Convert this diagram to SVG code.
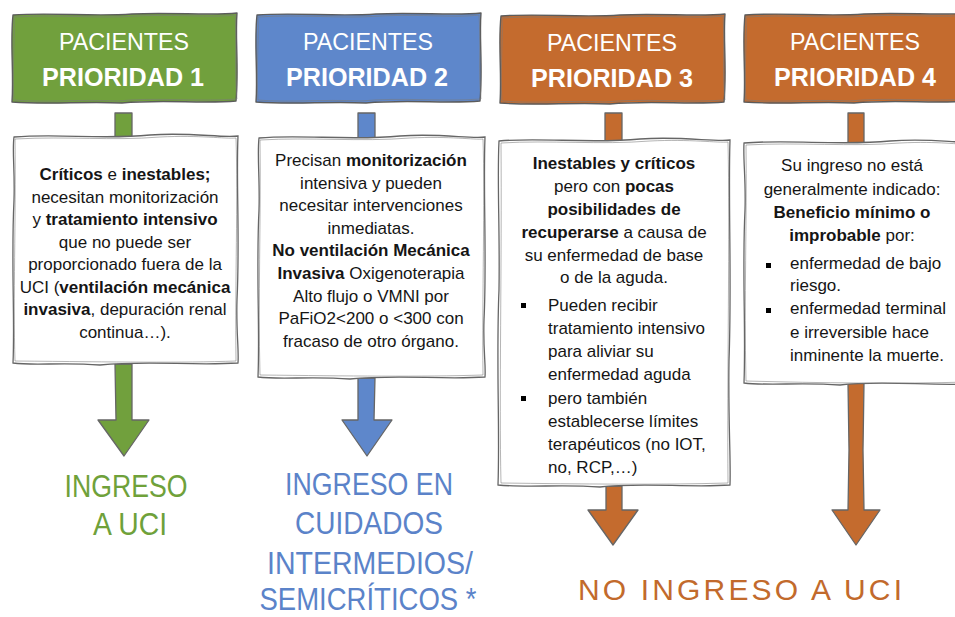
<svg xmlns="http://www.w3.org/2000/svg" xmlns:xlink="http://www.w3.org/1999/xlink" width="955" height="617" viewBox="0 0 955 617">
<style>
.t{font-family:"Liberation Sans",Arial,sans-serif;font-size:17px;fill:#151515}
.b{font-weight:bold}
.c{text-anchor:middle}
.h1{font-family:"Liberation Sans",Arial,sans-serif;font-size:24px;fill:#fff;text-anchor:middle}
.h2{font-family:"Liberation Sans",Arial,sans-serif;font-size:25px;font-weight:bold;fill:#fff;text-anchor:middle}
.r{font-family:"Liberation Sans",Arial,sans-serif;font-size:32px;text-anchor:middle}
.edge{stroke:#5c5c5c;stroke-width:1.4;stroke-linejoin:round}
.edge2{fill:none;stroke:#7a7a7a;stroke-width:0.8;stroke-opacity:0.7}
.box{fill:#fff;stroke:#666;stroke-width:1.3}
.g{fill:#71A03D}
.bl{fill:#5E87CB}
.o{fill:#C46B2E}
.gt{fill:#6FA13A}
.blt{fill:#5B83C9}
.ot{fill:#C26A2C}
.arr{stroke:#666;stroke-width:1.3;stroke-linejoin:round}
</style>
<defs>
<path id="hdr" d="M1,2 C40,-1 80,4 120,1 C160,-1 200,3 225,0 C223,25 227,55 224,88 C190,91 150,86 110,90 C70,88 40,92 0,89 C2,60 -2,30 1,2 Z"/>
<path id="hdr2" d="M2,4 C45,1 85,6 125,3 C165,1 200,5 223,2 C225,30 222,60 225,86 C185,89 145,84 105,88 C65,86 35,90 2,87 C0,60 3,30 2,4 Z"/>
<rect id="bul" width="5" height="5"/>
</defs>

<g id="connectors">
<rect class="g arr" x="115" y="113" width="17" height="25"/>
<rect class="bl arr" x="358" y="113" width="17" height="25"/>
<rect class="o arr" x="605" y="113" width="17" height="28"/>
<rect class="o arr" x="848" y="113" width="16" height="30"/>
<path class="g arr" d="M115,364 L116,420 L98,420 L124,456 L149,420 L132,420 L132,364 Z"/>
<path class="bl arr" d="M358,378 L358,420 L342,420 L367,456 L392,420 L374,420 L375,378 Z"/>
<path class="o arr" d="M606,486 L606,510 L588,510 L613,545 L638,510 L622,510 L622,486 Z"/>
<path class="o arr" d="M848,383 L849,450 L848,510 L832,510 L856,545 L880,510 L864,510 L863,450 L864,383 Z"/>
</g>

<g id="header-p1">
<use xlink:href="#hdr" x="12" y="13" class="g edge"/>
<use xlink:href="#hdr2" x="12" y="13" class="edge2"/>
<text class="h1" x="124" y="50" textLength="130" lengthAdjust="spacingAndGlyphs">PACIENTES</text>
<text class="h2" x="123" y="86" textLength="162" lengthAdjust="spacingAndGlyphs">PRIORIDAD 1</text>
</g>
<g id="header-p2">
<use xlink:href="#hdr" x="256" y="13" class="bl edge"/>
<use xlink:href="#hdr2" x="256" y="13" class="edge2"/>
<text class="h1" x="368" y="50" textLength="130" lengthAdjust="spacingAndGlyphs">PACIENTES</text>
<text class="h2" x="367" y="86" textLength="162" lengthAdjust="spacingAndGlyphs">PRIORIDAD 2</text>
</g>
<g id="header-p3">
<use xlink:href="#hdr" x="500" y="14" class="o edge"/>
<use xlink:href="#hdr2" x="500" y="14" class="edge2"/>
<text class="h1" x="612" y="51" textLength="130" lengthAdjust="spacingAndGlyphs">PACIENTES</text>
<text class="h2" x="612" y="87" textLength="162" lengthAdjust="spacingAndGlyphs">PRIORIDAD 3</text>
</g>
<g id="header-p4">
<use xlink:href="#hdr" x="744" y="13" class="o edge"/>
<use xlink:href="#hdr2" x="744" y="13" class="edge2"/>
<text class="h1" x="855" y="50" textLength="130" lengthAdjust="spacingAndGlyphs">PACIENTES</text>
<text class="h2" x="855" y="86" textLength="162" lengthAdjust="spacingAndGlyphs">PRIORIDAD 4</text>
</g>

<g id="box-p1">
<path class="box" d="M14,137 C60,133 100,140 150,135 C190,132 220,138 238,136 C236,180 240,240 237,300 C236,330 239,350 238,363 C190,366 150,360 100,365 C60,362 35,366 13,363 C15,320 11,260 14,200 C15,170 12,150 14,137 Z"/>
<path class="edge2" d="M15,139 C70,136 110,141 160,137 C200,135 225,139 236,138 C238,200 235,280 236,361 C180,363 120,362 15,361 C13,300 16,220 15,139"/>
<text class="t c" x="125" y="180"><tspan class="b">Críticos</tspan> e <tspan class="b">inestables;</tspan></text>
<text class="t c" x="125" y="202.5">necesitan monitorización</text>
<text class="t c" x="125" y="225">y <tspan class="b">tratamiento intensivo</tspan></text>
<text class="t c" x="125" y="247.5">que no puede ser</text>
<text class="t c" x="125" y="270">proporcionado fuera de la</text>
<text class="t c" x="125" y="292.5">UCI (<tspan class="b">ventilación mecánica</tspan></text>
<text class="t c" x="125" y="315"><tspan class="b">invasiva</tspan>, depuración renal</text>
<text class="t c" x="125" y="337.5">continua…).</text>
</g>

<g id="box-p2">
<path class="box" d="M259,138 C300,134 350,141 400,136 C440,133 470,139 485,137 C483,190 487,260 484,320 C483,350 486,365 485,377 C440,380 400,374 350,379 C310,376 280,380 258,377 C260,330 256,270 259,210 C260,180 257,155 259,138 Z"/>
<path class="edge2" d="M260,140 C310,137 360,142 410,138 C450,136 475,140 483,139 C485,200 482,300 483,375 C420,377 350,376 260,375 C258,300 261,220 260,140"/>
<text class="t c" x="371" y="166">Precisan <tspan class="b">monitorización</tspan></text>
<text class="t c" x="371" y="188.6">intensiva y pueden</text>
<text class="t c" x="371" y="211.2">necesitar intervenciones</text>
<text class="t c" x="371" y="233.8">inmediatas.</text>
<text class="t c b" x="371" y="256.4">No ventilación Mecánica</text>
<text class="t c" x="371" y="279"><tspan class="b">Invasiva</tspan> Oxigenoterapia</text>
<text class="t c" x="371" y="301.6">Alto flujo o VMNI por</text>
<text class="t c" x="371" y="324.2">PaFiO2&lt;200 o &lt;300 con</text>
<text class="t c" x="371" y="346.8">fracaso de otro órgano.</text>
</g>

<g id="box-p3">
<path class="box" d="M499,141 C540,137 590,144 640,139 C680,136 715,142 730,140 C728,200 732,280 729,360 C728,420 731,460 730,485 C690,488 640,482 600,487 C560,484 530,488 498,485 C500,430 496,360 499,290 C500,230 497,180 499,141 Z"/>
<path class="edge2" d="M501,143 C550,140 600,145 650,141 C690,139 718,143 728,142 C730,230 727,380 728,483 C660,485 580,484 501,483 C499,400 502,260 501,143"/>
<text class="t c b" x="614" y="169">Inestables y críticos</text>
<text class="t c" x="614" y="192">pero con <tspan class="b">pocas</tspan></text>
<text class="t c b" x="614" y="215">posibilidades de</text>
<text class="t c" x="614" y="238"><tspan class="b">recuperarse</tspan> a causa de</text>
<text class="t c" x="614" y="260.5">su enfermedad de base</text>
<text class="t c" x="614" y="283">o de la aguda.</text>
<use xlink:href="#bul" x="521" y="303"/>
<text class="t" x="548" y="311">Pueden recibir</text>
<text class="t" x="548" y="334">tratamiento intensivo</text>
<text class="t" x="548" y="357">para aliviar su</text>
<text class="t" x="548" y="380">enfermedad aguda</text>
<use xlink:href="#bul" x="521" y="396"/>
<text class="t" x="548" y="404">pero también</text>
<text class="t" x="548" y="427">establecerse límites</text>
<text class="t" x="548" y="450">terapéuticos (no IOT,</text>
<text class="t" x="548" y="473">no, RCP,…)</text>
</g>

<g id="box-p4">
<path class="box" d="M744,143 C790,139 840,146 890,141 C930,138 955,143 968,142 L968,384 C930,386 880,380 840,385 C800,382 770,386 744,383 C746,330 742,270 745,210 C746,180 743,160 744,143 Z"/>
<path class="edge2" d="M746,145 C800,142 850,147 900,143 C940,141 960,145 968,144 M968,382 C900,384 820,383 746,381 C744,300 747,220 746,145"/>
<text class="t c" x="852" y="171">Su ingreso no está</text>
<text class="t c" x="852" y="195">generalmente indicado:</text>
<text class="t c b" x="852" y="218">Beneficio mínimo o</text>
<text class="t c" x="852" y="241"><tspan class="b">improbable</tspan> por:</text>
<use xlink:href="#bul" x="766" y="263"/>
<text class="t" x="790" y="269">enfermedad de bajo</text>
<text class="t" x="790" y="291">riesgo.</text>
<use xlink:href="#bul" x="766" y="308"/>
<text class="t" x="790" y="314">enfermedad terminal</text>
<text class="t" x="790" y="338">e irreversible hace</text>
<text class="t" x="790" y="361">inminente la muerte.</text>
</g>

<g id="result-p1">
<text class="r gt" x="126" y="497" textLength="123" lengthAdjust="spacingAndGlyphs">INGRESO</text>
<text class="r gt" x="130" y="535" textLength="74" lengthAdjust="spacingAndGlyphs">A UCI</text>
</g>
<g id="result-p2">
<text class="r blt" x="369" y="495" textLength="168" lengthAdjust="spacingAndGlyphs">INGRESO EN</text>
<text class="r blt" x="369" y="534" textLength="148" lengthAdjust="spacingAndGlyphs">CUIDADOS</text>
<text class="r blt" x="370" y="574" textLength="206" lengthAdjust="spacingAndGlyphs">INTERMEDIOS/</text>
<text class="r blt" x="368" y="610" textLength="217" lengthAdjust="spacingAndGlyphs">SEMICRÍTICOS *</text>
</g>
<g id="result-p34">
<text class="r ot" x="740" y="600" style="font-size:30px" textLength="324" lengthAdjust="spacing">NO INGRESO A UCI</text>
</g>
</svg>
